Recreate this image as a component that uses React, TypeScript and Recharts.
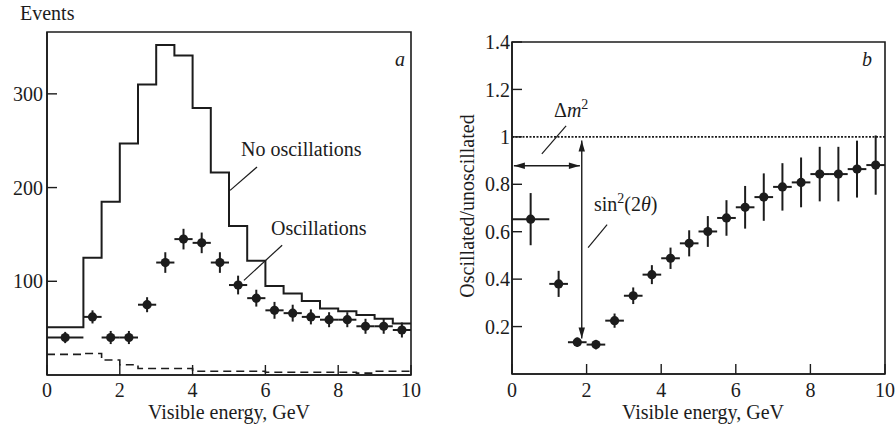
import React from "react";
import {
  ComposedChart,
  Line,
  Scatter,
  ErrorBar,
  XAxis,
  YAxis,
  ReferenceArea,
  ReferenceLine,
} from "recharts";

// bin edges (GeV) for the histograms, 0.5 GeV wide
const binEdges = [0, 0.5, 1, 1.5, 2, 2.5, 3, 3.5, 4, 4.5, 5, 5.5, 6, 6.5, 7, 7.5, 8, 8.5, 9, 9.5, 10];
const noOscCounts = [51, 51, 125, 185, 247, 310, 352, 341, 285, 216, 159, 122, 95, 87, 79, 71, 68, 64, 60, 55];
const bkgCounts = [22, 22, 23, 16, 11, 7, 7, 7, 4, 4, 4, 4, 3, 3, 3, 3, 3, 2, 4, 4];

// measured points (bin centres)
const ptEnergy = [0.5, 1.25, 1.75, 2.25, 2.75, 3.25, 3.75, 4.25, 4.75, 5.25, 5.75, 6.25, 6.75, 7.25, 7.75, 8.25, 8.75, 9.25, 9.75];
const ptHalfWidth = [0.5, 0.25, 0.25, 0.25, 0.25, 0.25, 0.25, 0.25, 0.25, 0.25, 0.25, 0.25, 0.25, 0.25, 0.25, 0.25, 0.25, 0.25, 0.25];
const oscEvents = [40, 62, 40, 40, 75, 120, 145, 141, 120, 96, 82, 69, 66, 62, 59, 59, 52, 52, 48];
const oscEventsErr = [6, 7, 7, 7, 8, 11, 11, 11, 11, 10, 9, 9, 9, 8, 8, 8, 8, 8, 8];
const ratio = [0.653, 0.38, 0.134, 0.124, 0.225, 0.33, 0.419, 0.488, 0.551, 0.601, 0.658, 0.703, 0.746, 0.789, 0.808, 0.843, 0.843, 0.864, 0.881];
const ratioErr = [0.11, 0.055, 0.02, 0.02, 0.03, 0.035, 0.04, 0.045, 0.055, 0.065, 0.075, 0.09, 0.1, 0.1, 0.105, 0.115, 0.115, 0.12, 0.125];

const xTicks = [0, 2, 4, 6, 8, 10];
const yTicksA = [100, 200, 300];
const yTicksB = [0.2, 0.4, 0.6, 0.8, 1, 1.2, 1.4];
const yMinorB = [0.05, 0.1, 0.15, 0.25, 0.3, 0.35, 0.45, 0.5, 0.55, 0.65, 0.7, 0.75, 0.85, 0.9, 0.95, 1.05, 1.1, 1.15, 1.25, 1.3, 1.35];

const histNoOsc = binEdges.map((x, i) => ({ x, y: noOscCounts[Math.min(i, noOscCounts.length - 1)] }));
const histBkg = binEdges.map((x, i) => ({ x, y: bkgCounts[Math.min(i, bkgCounts.length - 1)] }));
const pointsA = ptEnergy.map((x, i) => ({ x, y: oscEvents[i], ex: ptHalfWidth[i], ey: oscEventsErr[i] }));
const pointsB = ptEnergy.map((x, i) => ({ x, y: ratio[i], ex: ptHalfWidth[i], ey: ratioErr[i] }));

const INK = "#1c1c1c";
const FONT = "Liberation Serif";

const XTick = (p: any) => (
  <text x={p.x} y={p.y} dy="0.71em" textAnchor="middle" fontFamily={FONT} fontSize={20} fill={INK}>
    {p.payload.value}
  </text>
);
const YTick = (p: any) => (
  <text x={p.x} y={p.y} dy="0.355em" textAnchor="end" fontFamily={FONT} fontSize={20} fill={INK}>
    {p.payload.value}
  </text>
);

const Dot = (p: any) => <circle cx={p.cx} cy={p.cy} r={4.6} fill={INK} />;

const DoubleArrow = (p: any) => {
  const { x1, y1, x2, y2 } = p;
  const a = Math.atan2(y2 - y1, x2 - x1);
  const L = 11;
  const W = 3.2;
  const head = (x: number, y: number, ang: number) => {
    const bx = x - L * Math.cos(ang);
    const by = y - L * Math.sin(ang);
    const nx = -Math.sin(ang) * W;
    const ny = Math.cos(ang) * W;
    return `${x},${y} ${bx + nx},${by + ny} ${bx - nx},${by - ny}`;
  };
  return (
    <g>
      <line x1={x1} y1={y1} x2={x2} y2={y2} stroke={INK} strokeWidth={1.4} />
      <polygon points={head(x2, y2, a)} fill={INK} />
      <polygon points={head(x1, y1, a + Math.PI)} fill={INK} />
    </g>
  );
};

export default function App() {
  return (
    <div style={{ position: "absolute", left: 0, top: 0, width: 895, height: 432, background: "#fff", fontFamily: FONT }}>
      <div style={{ position: "absolute", left: 0, top: 0 }}>
        <ComposedChart width={450} height={432} margin={{ top: 32, right: 39, bottom: 56, left: 46 }}>
          <XAxis
            type="number"
            dataKey="x"
            domain={[0, 10]}
            ticks={xTicks}
            height={1}
            tickSize={-10}
            tickMargin={18}
            tick={XTick}
            axisLine={{ stroke: INK, strokeWidth: 1.6 }}
            tickLine={{ stroke: INK, strokeWidth: 1.4 }}
          />
          <YAxis
            type="number"
            domain={[0, 366]}
            allowDataOverflow
            ticks={yTicksA}
            width={1}
            tickSize={-10}
            tickMargin={14}
            tick={YTick}
            axisLine={{ stroke: INK, strokeWidth: 1.6 }}
            tickLine={{ stroke: INK, strokeWidth: 1.4 }}
          />
          <ReferenceArea x1={0} x2={10} y1={0} y2={366} fill="none" stroke={INK} strokeWidth={1.6} ifOverflow="visible" />
          <Line data={histBkg} dataKey="y" type="stepAfter" dot={false} stroke={INK} strokeWidth={1.6} strokeDasharray="8 5" isAnimationActive={false} />
          <Line data={histNoOsc} dataKey="y" type="stepAfter" dot={false} stroke={INK} strokeWidth={2} isAnimationActive={false} />
          <Scatter data={pointsA} dataKey="y" shape={Dot} isAnimationActive={false}>
            <ErrorBar dataKey="ex" direction="x" width={0} stroke={INK} strokeWidth={2} />
            <ErrorBar dataKey="ey" direction="y" width={0} stroke={INK} strokeWidth={2} />
          </Scatter>
          <ReferenceLine segment={[{ x: 5.03, y: 197 }, { x: 5.77, y: 222 }]} stroke={INK} strokeWidth={1.2} />
          <ReferenceLine segment={[{ x: 5.41, y: 101 }, { x: 6.46, y: 138.5 }]} stroke={INK} strokeWidth={1.2} />
        </ComposedChart>
      </div>
      <div style={{ position: "absolute", left: 450, top: 0 }}>
        <ComposedChart width={445} height={432} margin={{ top: 42, right: 10, bottom: 57, left: 60 }}>
          <XAxis
            type="number"
            dataKey="x"
            domain={[0, 10]}
            ticks={xTicks}
            height={1}
            tickSize={-10}
            tickMargin={19}
            tick={XTick}
            axisLine={{ stroke: INK, strokeWidth: 1.6 }}
            tickLine={{ stroke: INK, strokeWidth: 1.4 }}
          />
          <YAxis
            type="number"
            domain={[0, 1.4]}
            allowDataOverflow
            ticks={yTicksB}
            width={1}
            tickSize={-10}
            tickMargin={12}
            tick={YTick}
            axisLine={{ stroke: INK, strokeWidth: 1.6 }}
            tickLine={{ stroke: INK, strokeWidth: 1.4 }}
          />
          <YAxis
            yAxisId="minor"
            type="number"
            domain={[0, 1.4]}
            allowDataOverflow
            ticks={yMinorB}
            width={1}
            tickSize={-7}
            tick={false}
            axisLine={false}
            tickLine={{ stroke: INK, strokeWidth: 1.2 }}
          />
          <ReferenceArea x1={0} x2={10} y1={0} y2={1.4} fill="none" stroke={INK} strokeWidth={1.6} ifOverflow="visible" />
          <ReferenceLine y={1} stroke={INK} strokeWidth={1.6} strokeDasharray="2 1.5" />
          <ReferenceLine segment={[{ x: 0.05, y: 0.878 }, { x: 1.82, y: 0.878 }]} shape={DoubleArrow} />
          <ReferenceLine segment={[{ x: 1.87, y: 0.985 }, { x: 1.87, y: 0.15 }]} shape={DoubleArrow} />
          <ReferenceLine segment={[{ x: 0.8, y: 0.928 }, { x: 1.45, y: 1.046 }]} stroke={INK} strokeWidth={1.2} />
          <ReferenceLine segment={[{ x: 2.04, y: 0.533 }, { x: 2.55, y: 0.63 }]} stroke={INK} strokeWidth={1.2} />
          <Scatter data={pointsB} dataKey="y" shape={Dot} isAnimationActive={false}>
            <ErrorBar dataKey="ex" direction="x" width={0} stroke={INK} strokeWidth={2} />
            <ErrorBar dataKey="ey" direction="y" width={0} stroke={INK} strokeWidth={2} />
          </Scatter>
        </ComposedChart>
      </div>
      <svg
        width={895}
        height={432}
        style={{ position: "absolute", left: 0, top: 0, pointerEvents: "none" }}
        fontFamily={FONT}
        fontSize={20}
        fill={INK}
      >
        <text x={20} y={20}>Events</text>
        <text x={229} y={419} textAnchor="middle">Visible energy, GeV</text>
        <text x={703} y={419} textAnchor="middle">Visible energy, GeV</text>
        <text x={474} y={206} textAnchor="middle" transform="rotate(-90 474 206)">Oscillated/unoscillated</text>
        <text x={395} y={66} fontStyle="italic">a</text>
        <text x={862} y={66} fontStyle="italic">b</text>
        <text x={241} y={156}>No oscillations</text>
        <text x={271} y={235}>Oscillations</text>
        <text x={554} y={117}>
          Δ<tspan fontStyle="italic">m</tspan>
          <tspan fontSize={14} dy={-8}>2</tspan>
        </text>
        <text x={594} y={211}>
          sin<tspan fontSize={14} dy={-8}>2</tspan>
          <tspan dy={8}>(2</tspan>
          <tspan fontStyle="italic">θ</tspan>)
        </text>
      </svg>
    </div>
  );
}
